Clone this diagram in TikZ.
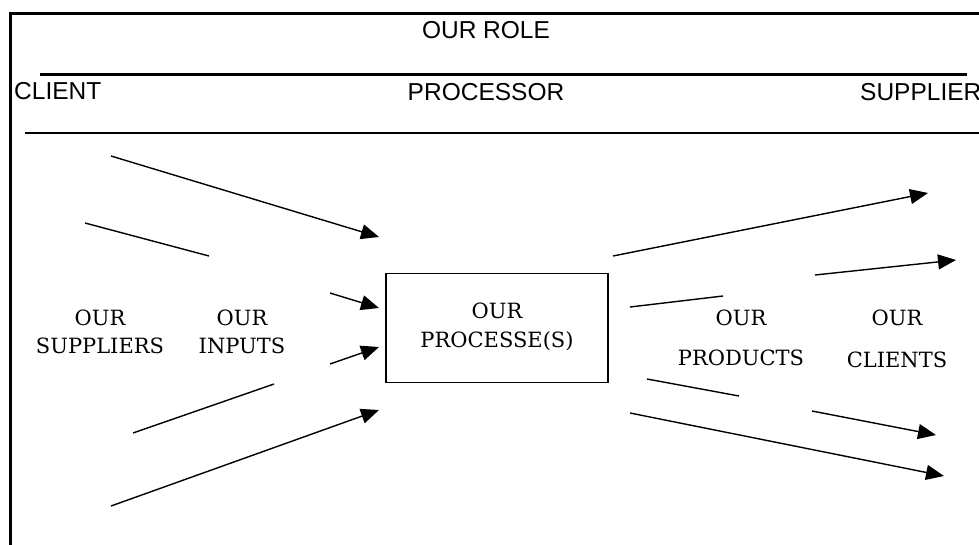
\documentclass[tikz,border=0pt]{standalone}
\usepackage{fontspec}
\setmainfont{DejaVu Serif}
\newfontfamily\sansf{Liberation Sans}
\usetikzlibrary{arrows.meta}
\begin{document}
\begin{tikzpicture}[x=1pt,y=-1pt,
  hdr/.style={font=\sansf\fontsize{24.5}{27}\selectfont, inner sep=0pt, anchor=base},
  lbl/.style={font=\fontsize{21}{24}\selectfont, inner sep=0pt, anchor=base},
  arr/.style={line width=1.4pt, -{Triangle[length=18pt,width=15pt]}},
  seg/.style={line width=1.4pt},
  procbox/.style={draw, line width=1.8pt, minimum width=222pt, minimum height=109pt, inner sep=0pt}]
\useasboundingbox (0,0) rectangle (979,544);
\clip (0,0) rectangle (979,544);
\fill[white] (0,0) rectangle (979,544);
% frame
\coordinate (fbl) at (10,560);
\coordinate (ftl) at (10,13);
\coordinate (ftr) at (995,13);
\draw[line width=3pt] (fbl) -- (ftl) -- (ftr);
% header
\node[hdr] (role) at (486,38) {OUR ROLE};
\coordinate (l1a) at (40,74);
\coordinate (l1b) at (967,74);
\draw[line width=3pt] (l1a) -- (l1b);
\node[hdr, anchor=base west] (client) at (14,99) {CLIENT};
\node[hdr] (processor) at (486,100) {PROCESSOR};
\node[hdr, anchor=base west] (supplier) at (860,100) {SUPPLIER};
\coordinate (l2a) at (25,133);
\coordinate (l2b) at (995,133);
\draw[line width=2pt] (l2a) -- (l2b);
% process box
\node[procbox] (proc) at (497,328) {};
\node[lbl] (procA) at (497,318) {OUR};
\node[lbl] (procB) at (497,347) {PROCESSE(S)};
% left labels
\node[lbl] (supA) at (100,325) {OUR};
\node[lbl] (supB) at (100,353) {SUPPLIERS};
\node[lbl] (inA) at (242,325) {OUR};
\node[lbl] (inB) at (242,353) {INPUTS};
% right labels
\node[lbl] (prA) at (741,325) {OUR};
\node[lbl] (prB) at (741,365) {PRODUCTS};
\node[lbl] (clA) at (897,325) {OUR};
\node[lbl] (clB) at (897,367) {CLIENTS};
% left connectors
\coordinate (a1s) at (111,156); \coordinate (a1e) at (379,237);
\coordinate (s2s) at (85,223);  \coordinate (s2e) at (209,256);
\coordinate (a3s) at (330,293); \coordinate (a3e) at (379,308);
\coordinate (a4s) at (330,364); \coordinate (a4e) at (379,347);
\coordinate (s5s) at (133,433); \coordinate (s5e) at (274,384);
\coordinate (a6s) at (111,506); \coordinate (a6e) at (379,410);
\draw[arr] (a1s) -- (a1e);
\draw[seg] (s2s) -- (s2e);
\draw[arr] (a3s) -- (a3e);
\draw[arr] (a4s) -- (a4e);
\draw[seg] (s5s) -- (s5e);
\draw[arr] (a6s) -- (a6e);
% right connectors
\coordinate (bAs) at (613,256); \coordinate (bAe) at (928,193);
\coordinate (bBs) at (815,275); \coordinate (bBe) at (956,260);
\coordinate (sCs) at (630,307); \coordinate (sCe) at (723,296);
\coordinate (sDs) at (647,379); \coordinate (sDe) at (739,396);
\coordinate (bEs) at (812,411); \coordinate (bEe) at (936,435);
\coordinate (bFs) at (630,413); \coordinate (bFe) at (944,476);
\draw[arr] (bAs) -- (bAe);
\draw[arr] (bBs) -- (bBe);
\draw[seg] (sCs) -- (sCe);
\draw[seg] (sDs) -- (sDe);
\draw[arr] (bEs) -- (bEe);
\draw[arr] (bFs) -- (bFe);
\end{tikzpicture}
\end{document}
